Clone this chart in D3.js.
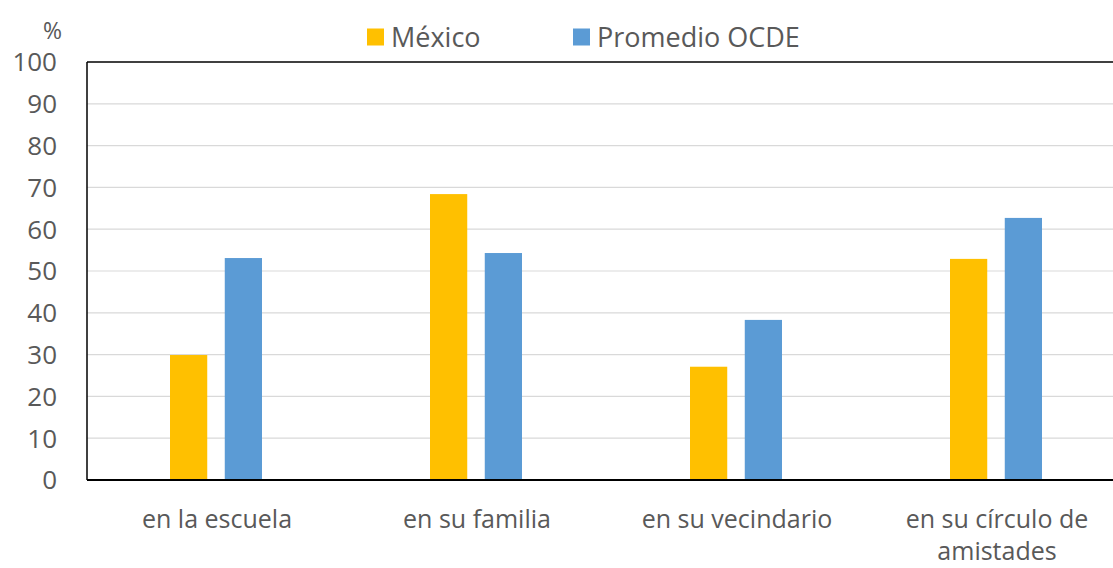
<!DOCTYPE html>
<html>
<head>
<meta charset="utf-8">
<script src="https://cdn.jsdelivr.net/npm/d3@7"></script>
<style>
  body { margin: 0; background: #fff; }
  text { font-family: "Open Sans", sans-serif; fill: #595959; }
</style>
</head>
<body>
<div id="container"></div>
<script>
const categories = [["en la escuela"], ["en su familia"], ["en su vecindario"], ["en su círculo de", "amistades"]];
const seriesNames = ["México", "Promedio OCDE"];
const mexico = [29.9, 68.4, 27.1, 52.9];
const ocde = [53.1, 54.3, 38.3, 62.7];
const yTicks = [0, 10, 20, 30, 40, 50, 60, 70, 80, 90, 100];
const colors = ["#FFC000", "#5B9BD5"];

var margin = {top: 62, right: 0, bottom: 88, left: 87},
    width = 1113 - margin.left - margin.right,
    height = 568 - margin.top - margin.bottom;

const svg = d3.select("#container")
  .append("svg")
    .attr("width", 1113)
    .attr("height", 568)
  .append("g")
    .attr("transform", "translate(" + margin.left + "," + margin.top + ")");

// the plot runs past the right edge of the picture
const x0 = d3.scaleBand()
  .domain(d3.range(categories.length))
  .range([0, 1040]);

const x1 = d3.scaleBand()
  .domain([0, 1])
  .range([x0.bandwidth() / 2 - 47, x0.bandwidth() / 2 + 45])
  .paddingInner(0.32);

const y = d3.scaleLinear()
  .domain([0, 100])
  .range([height, 0]);

// gridlines
svg.append("g")
  .selectAll("line")
  .data(yTicks.slice(1, -1))
  .enter()
  .append("line")
    .attr("x1", 0)
    .attr("x2", width)
    .attr("y1", d => y(d))
    .attr("y2", d => y(d))
    .attr("stroke", "#d9d9d9")
    .attr("stroke-width", 1.2);

// y labels
svg.append("g")
  .selectAll("text")
  .data(yTicks)
  .enter()
  .append("text")
    .attr("x", -30)
    .attr("y", d => y(d))
    .attr("dy", "0.36em")
    .attr("text-anchor", "end")
    .style("font-size", "26px")
    .text(d => d);

svg.append("text")
  .attr("x", -25)
  .attr("y", -31)
  .attr("dy", "0.36em")
  .attr("text-anchor", "end")
  .style("font-size", "23px")
  .text("%");

// bars
const values = [mexico, ocde];
svg.selectAll(".bar-group")
  .data(categories)
  .enter()
  .append("g")
    .attr("class", "bar-group")
    .attr("transform", (d, i) => `translate(${x0(i)},0)`)
  .selectAll("rect")
  .data((d, i) => values.map((s, k) => ({k: k, v: s[i]})))
  .enter()
  .append("rect")
    .attr("x", d => x1(d.k))
    .attr("y", d => y(d.v))
    .attr("width", x1.bandwidth())
    .attr("height", d => height - y(d.v))
    .attr("fill", d => colors[d.k]);

// frame
svg.append("line")
  .attr("x1", 0).attr("x2", width)
  .attr("y1", 0).attr("y2", 0)
  .attr("stroke", "#000").attr("stroke-width", 1.5);
svg.append("line")
  .attr("x1", 0).attr("x2", 0)
  .attr("y1", 0).attr("y2", height)
  .attr("stroke", "#000").attr("stroke-width", 1.5);
svg.append("line")
  .attr("x1", 0).attr("x2", width)
  .attr("y1", height).attr("y2", height)
  .attr("stroke", "#000").attr("stroke-width", 2);

// category labels
const catLabels = svg.append("g")
  .selectAll("text")
  .data(categories)
  .enter()
  .append("text")
    .attr("x", (d, i) => x0(i) + x0.bandwidth() / 2)
    .attr("y", height + 48)
    .attr("text-anchor", "middle")
    .style("font-size", "25px");

catLabels.selectAll("tspan")
  .data(d => d)
  .enter()
  .append("tspan")
    .attr("x", function() { return this.parentNode.getAttribute("x"); })
    .attr("dy", (d, i) => i === 0 ? 0 : 32)
    .text(d => d);

// legend
const legendX = [280, 486];
const legend = svg.selectAll(".legend")
  .data(seriesNames)
  .enter()
  .append("g")
    .attr("class", "legend")
    .attr("transform", (d, i) => `translate(${legendX[i]},${-25})`);

legend.append("rect")
  .attr("x", 0)
  .attr("y", -8.5)
  .attr("width", 17)
  .attr("height", 17)
  .style("fill", (d, i) => colors[i]);

legend.append("text")
  .attr("x", 24)
  .attr("y", 0)
  .attr("dy", "0.36em")
  .style("font-size", "27px")
  .text(d => d);
</script>
</body>
</html>
